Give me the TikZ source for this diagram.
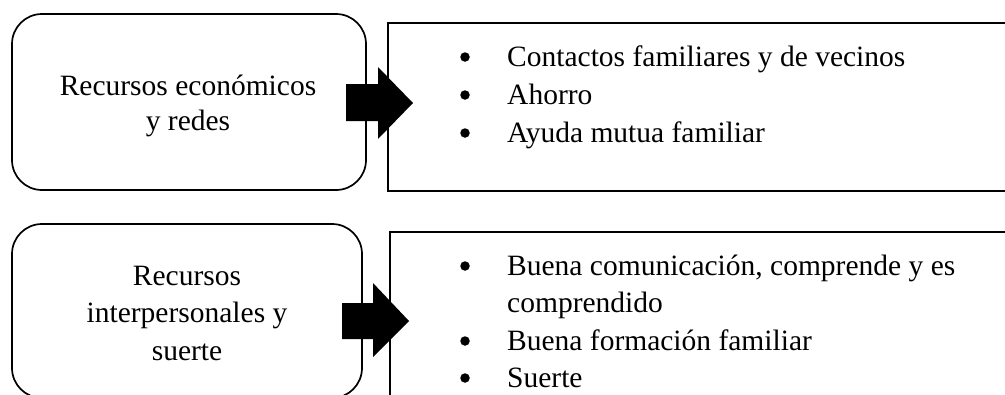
\documentclass[tikz,border=0pt]{standalone}
\usepackage{fontspec}
\setmainfont{Liberation Serif}
\begin{document}
\begin{tikzpicture}[x=1pt,y=-1pt,
  roundbox/.style={draw, line width=1.7pt, rounded corners=30pt},
  listbox/.style={draw, line width=1.6pt},
  txt/.style={inner sep=0pt, anchor=base, font=\fontsize{29.5}{36}\selectfont},
  item/.style={inner sep=0pt, anchor=base west, font=\fontsize{29.5}{36}\selectfont},
  bul/.style={circle, fill=black, inner sep=0pt, minimum size=9.5pt},
  blockarrow/.style={fill=black}]
\useasboundingbox (0,0) rectangle (1005,394);
\fill[white] (0,0) rectangle (1005,394);
\clip (0,0) rectangle (1005,394);
% top row
\draw[roundbox] (12,14) rectangle (366,190);
\draw[listbox] (388,23) rectangle (1020,191);
\node[txt] (l1a) at (188,95) {Recursos económicos};
\node[txt] (l1b) at (188,130) {y redes};
\node[bul] (p1) at (465,57) {};
\node[item] (i1) at (507,66) {Contactos familiares y de vecinos};
\node[bul] (p2) at (465,95) {};
\node[item] (i2) at (507,104) {Ahorro};
\node[bul] (p3) at (465,133) {};
\node[item] (i3) at (507,142) {Ayuda mutua familiar};
\fill[blockarrow] (346,84) -- (378,84) -- (378,67) -- (413,103) -- (378,139) -- (378,121) -- (346,121) -- cycle;
% bottom row
\draw[roundbox] (12,224) rectangle (362,398);
\draw[listbox] (390,232) rectangle (1020,410);
\node[txt] (l2a) at (187,285) {Recursos};
\node[txt] (l2b) at (187,322) {interpersonales y};
\node[txt] (l2c) at (187,360) {suerte};
\node[bul] (q1) at (465,266) {};
\node[item] (j1) at (507,275) {Buena comunicación, comprende y es};
\node[item] (j1b) at (507,312) {comprendido};
\node[bul] (q2) at (465,341) {};
\node[item] (j2) at (507,350) {Buena formación familiar};
\node[bul] (q3) at (465,378) {};
\node[item] (j3) at (507,387) {Suerte};
\fill[blockarrow] (342,303) -- (373,303) -- (373,283) -- (409,321) -- (373,357) -- (373,339) -- (342,339) -- cycle;
\end{tikzpicture}
\end{document}
